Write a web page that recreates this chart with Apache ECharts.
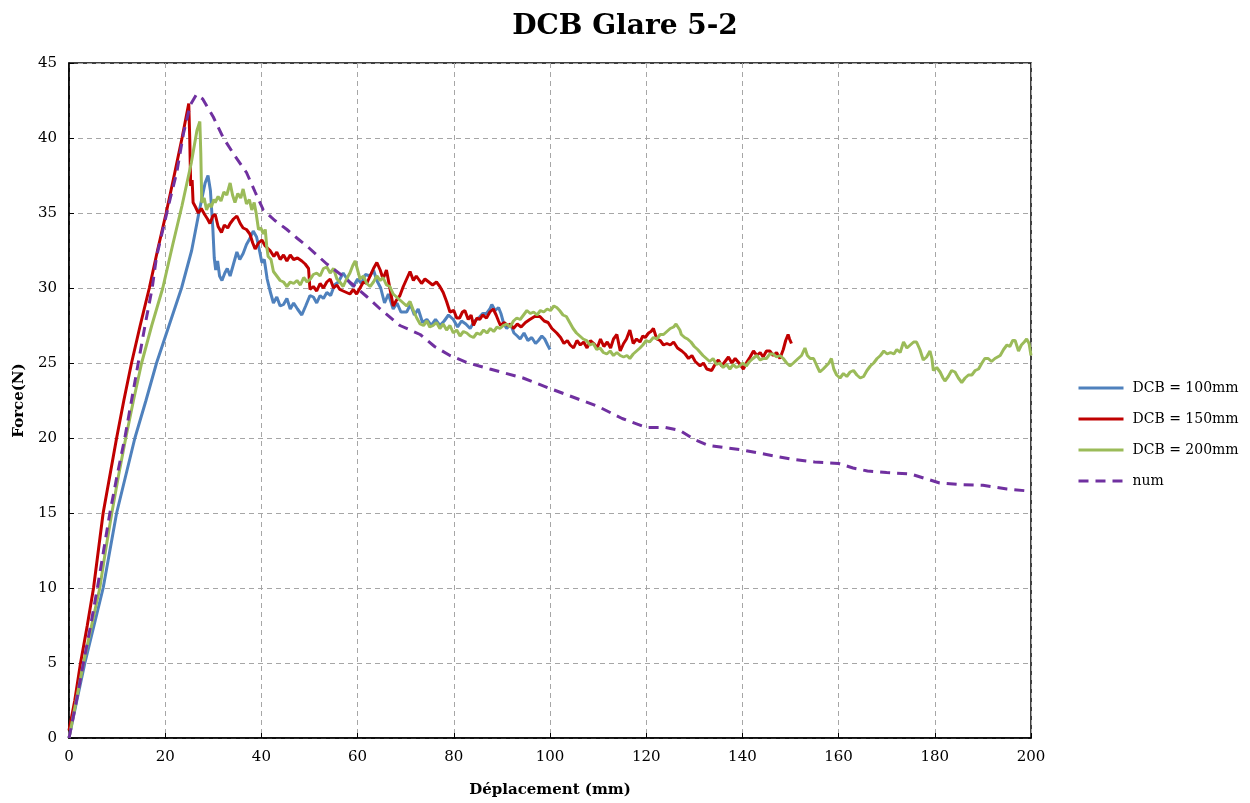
<!DOCTYPE html>
<html>
<head>
<meta charset="utf-8">
<script src="https://cdn.jsdelivr.net/npm/echarts@6/dist/echarts.min.js"></script>
<style>html,body{margin:0;padding:0;background:#fff}#c{width:1250px;height:803px}</style>
</head>
<body>
<div id="c"></div>
<script>
const chartTitle = "DCB Glare 5-2";
const xName = "Déplacement (mm)";
const yName = "Force(N)";
const seriesNames = ["DCB = 100mm", "DCB = 150mm", "DCB = 200mm", "num"];

const dcb100 = [[0,0],[1.5,2.3],[3.3,5],[5.2,7.5],[7.1,10],[8.5,12.5],[9.9,15],[11.8,17.5],[13.7,20],[16,22.5],[18.2,25],[20.8,27.5],[23.4,30],[25.5,32.5],[27,35],[28.3,37],[28.9,37.5],[29.4,36.5],[29.9,34],[30.2,32],[30.5,31.2],[30.9,31.8],[31.3,30.8],[31.8,30.5],[32.4,31.0],[32.9,31.3],[33.5,30.8],[34.2,31.6],[34.9,32.4],[35.5,31.9],[36.2,32.3],[36.9,32.9],[37.6,33.3],[38.3,33.8],[39.0,33.4],[39.6,32.5],[40.1,31.7],[40.6,31.9],[41.2,30.6],[41.8,29.8],[42.5,29.0],[43.2,29.4],[43.9,28.8],[44.6,28.9],[45.3,29.3],[46.0,28.6],[46.7,29.0],[47.5,28.6],[48.4,28.2],[49.2,28.8],[50.1,29.5],[50.8,29.4],[51.5,29.0],[52.2,29.5],[52.9,29.3],[53.6,29.7],[54.4,29.5],[55.2,30.2],[56.0,30.4],[57.0,31.0],[57.8,30.6],[58.5,30.3],[59.1,30.1],[60.0,30.6],[60.8,30.3],[61.6,30.9],[62.6,30.8],[63.3,31.2],[64.0,30.5],[64.8,30.0],[65.6,29.0],[66.4,29.6],[67.4,28.6],[68.2,29.0],[69.0,28.4],[70.2,28.4],[71.0,28.9],[71.8,28.2],[72.6,28.6],[73.5,27.7],[74.4,27.9],[75.3,27.5],[76.2,27.9],[77.1,27.5],[78.0,27.8],[78.9,28.2],[79.9,27.9],[80.8,27.4],[81.6,27.8],[82.5,27.6],[83.4,27.3],[84.3,27.8],[85.2,28.0],[86.0,28.3],[86.8,28.3],[87.5,28.6],[87.9,28.9],[88.6,28.5],[89.3,28.7],[89.8,28.3],[90.4,27.6],[91.0,27.3],[91.8,27.6],[92.5,27.0],[93.2,26.8],[93.8,26.6],[94.6,27.0],[95.4,26.5],[96.2,26.7],[97.0,26.3],[97.6,26.5],[98.3,26.8],[98.9,26.6],[99.5,26.2],[100,25.9]];

const dcb150 = [[0,0.5],[1.2,2.5],[2.4,5],[3.8,7.5],[5.1,10],[6.1,12.5],[7.1,15],[8.5,17.5],[9.9,20],[11.4,22.5],[13,25],[14.8,27.5],[16.7,30],[18.4,32.5],[20.2,35],[22,37.7],[23.5,40],[24.9,42.3],[25.1,40],[25.3,36.8],[25.6,37.2],[25.8,35.7],[26.3,35.4],[26.9,35.0],[27.5,35.3],[28.2,34.9],[28.8,34.6],[29.3,34.3],[29.9,34.8],[30.4,34.9],[31.0,34.1],[31.7,33.7],[32.3,34.2],[33.0,34.0],[33.5,34.3],[34.2,34.6],[34.9,34.8],[35.6,34.3],[36.2,34.0],[36.9,33.9],[37.6,33.6],[38.2,33.0],[38.7,32.6],[39.4,33.0],[40.1,33.2],[40.8,32.8],[41.8,32.5],[42.6,32.1],[43.2,32.4],[43.9,31.9],[44.6,32.2],[45.3,31.8],[46.0,32.2],[46.7,31.9],[47.5,32.0],[48.4,31.8],[49.1,31.6],[49.8,31.3],[50.1,29.9],[50.8,30.1],[51.5,29.8],[52.2,30.3],[52.9,30.0],[53.6,30.4],[54.3,30.6],[55.0,30.0],[55.7,30.2],[56.3,29.9],[57.0,29.8],[57.7,29.7],[58.4,29.6],[59.1,29.9],[59.8,29.6],[60.5,30.0],[61.2,30.4],[61.9,30.3],[62.6,30.8],[63.3,31.3],[64.0,31.7],[64.7,31.2],[65.3,30.6],[66.0,31.2],[66.7,30.0],[67.4,28.8],[68.1,29.2],[68.8,29.5],[69.5,30.1],[70.2,30.6],[70.9,31.1],[71.6,30.5],[72.2,30.8],[72.6,30.9],[73.3,30.3],[74.0,30.6],[74.8,30.4],[75.6,30.2],[76.4,30.4],[77.1,30.1],[77.8,29.7],[78.5,29.1],[79.2,28.4],[80.0,28.5],[80.6,28.0],[81.2,28.0],[81.8,28.4],[82.3,28.5],[83.0,27.9],[83.6,28.2],[84.1,27.5],[84.8,28.0],[85.4,27.9],[86.0,28.2],[86.8,28.0],[87.5,28.4],[88.2,28.6],[88.8,28.2],[89.3,27.8],[89.7,27.5],[90.5,27.7],[91.2,27.5],[91.8,27.6],[92.4,27.3],[93.2,27.6],[94.0,27.4],[94.9,27.7],[95.8,27.9],[96.8,28.1],[97.9,28.1],[98.8,27.8],[99.6,27.7],[100.4,27.3],[101.4,27.0],[102.2,26.7],[102.9,26.3],[103.6,26.5],[104.2,26.2],[104.9,26.0],[105.6,26.5],[106.3,26.2],[107.0,26.4],[107.7,26.0],[108.4,26.5],[109.1,26.3],[109.8,26.0],[110.5,26.6],[111.2,26.1],[111.9,26.4],[112.6,26.0],[113.2,26.6],[113.9,26.9],[114.6,25.8],[115.3,26.3],[115.9,26.6],[116.6,27.2],[117.3,26.3],[118.0,26.6],[118.7,26.4],[119.3,26.8],[119.8,26.7],[120.5,27.0],[121.0,27.1],[121.5,27.3],[122.2,26.6],[122.9,26.5],[123.6,26.2],[124.3,26.3],[125.0,26.2],[125.7,26.4],[126.5,26.0],[127.4,25.8],[128.1,25.6],[128.8,25.3],[129.5,25.5],[130.2,25.1],[131.2,24.8],[131.9,25.0],[132.6,24.6],[133.6,24.5],[134.3,24.9],[135.0,25.2],[135.7,24.8],[136.4,25.1],[137.1,25.4],[137.8,25.0],[138.5,25.3],[139.3,25.0],[140.2,24.6],[141.0,25.1],[141.6,25.4],[142.3,25.8],[143.0,25.5],[143.7,25.7],[144.3,25.4],[145.0,25.8],[145.7,25.8],[146.4,25.5],[147.1,25.7],[147.8,25.3],[148.5,25.9],[149.0,26.5],[149.5,26.9],[149.8,26.6],[150.2,26.3]];

const dcb200 = [[0,0],[1.5,2.5],[3,5],[4.7,7.5],[6.4,10],[7.6,12.5],[8.9,15],[10.3,17.5],[11.8,20],[13.4,22.5],[15.1,25],[17.2,27.5],[19.5,30],[21.5,32.8],[23.5,35.5],[25.4,38.3],[26.6,40.5],[27.2,41.1],[27.4,39],[27.6,35.7],[28.1,36.0],[28.6,35.2],[29.1,35.6],[29.6,35.4],[30.1,35.9],[30.4,35.7],[31.0,36.1],[31.6,35.8],[32.2,36.4],[32.8,36.2],[33.5,37.0],[34.0,36.2],[34.5,35.7],[35.1,36.3],[35.7,36.0],[36.2,36.6],[36.9,35.6],[37.5,35.9],[38.0,35.2],[38.5,35.7],[38.9,35.0],[39.4,33.9],[39.9,34.0],[40.4,33.6],[40.8,33.9],[41.1,32.8],[41.4,32.1],[42.0,31.9],[42.5,31.1],[43.2,30.8],[43.9,30.5],[44.6,30.4],[45.3,30.1],[46.0,30.4],[46.7,30.3],[47.4,30.5],[48.1,30.2],[48.8,30.7],[49.5,30.4],[50.2,30.6],[50.8,30.9],[51.5,31.0],[52.2,30.8],[52.9,31.3],[53.6,31.4],[54.3,31.0],[55.0,31.3],[55.7,30.6],[56.3,30.4],[57.0,30.1],[57.7,30.6],[58.4,31.0],[59.0,31.5],[59.5,31.8],[60.0,31.2],[60.5,30.6],[61.2,30.8],[61.9,30.3],[62.6,30.1],[63.3,30.4],[64.0,30.8],[64.7,30.5],[65.3,30.7],[66.0,30.2],[66.7,30.1],[67.4,29.6],[68.1,29.4],[68.8,29.2],[69.5,29.0],[70.2,28.8],[70.9,29.1],[71.6,28.5],[72.3,28.0],[73.0,27.6],[73.7,27.5],[74.4,27.8],[75.0,27.4],[75.7,27.5],[76.4,27.7],[77.1,27.3],[77.8,27.6],[78.5,27.2],[79.2,27.5],[79.9,27.0],[80.6,27.2],[81.3,26.8],[82.0,27.1],[82.7,27.0],[83.4,26.8],[84.1,26.7],[84.8,27.0],[85.5,26.9],[86.2,27.2],[86.9,27.0],[87.6,27.3],[88.3,27.1],[89.0,27.4],[89.6,27.3],[90.3,27.5],[91.0,27.6],[91.7,27.4],[92.4,27.8],[93.1,28.0],[93.8,27.9],[94.5,28.2],[95.2,28.5],[95.9,28.3],[96.6,28.4],[97.3,28.2],[98.0,28.5],[98.7,28.4],[99.4,28.6],[100.1,28.5],[100.8,28.8],[101.4,28.7],[102.0,28.5],[102.7,28.2],[103.4,28.1],[104.1,27.7],[104.8,27.3],[105.5,27.0],[106.2,26.8],[106.9,26.6],[107.6,26.5],[108.3,26.2],[109.0,26.3],[109.7,25.9],[110.4,26.0],[111.1,25.7],[111.8,25.6],[112.5,25.8],[113.2,25.5],[113.9,25.7],[114.6,25.5],[115.3,25.4],[116.0,25.5],[116.6,25.3],[117.3,25.6],[118.0,25.8],[118.7,26.0],[119.3,26.2],[120.0,26.5],[120.7,26.4],[121.5,26.7],[122.2,26.6],[122.9,26.9],[123.6,26.9],[124.3,27.1],[125.0,27.3],[125.7,27.4],[126.2,27.6],[126.6,27.6],[127.0,27.2],[127.3,26.9],[128.0,26.7],[128.6,26.6],[129.3,26.4],[130.0,26.1],[130.7,25.9],[131.1,25.8],[131.8,25.5],[132.5,25.3],[133.2,25.1],[133.9,25.3],[134.6,24.9],[135.3,25.0],[136.0,24.7],[136.7,24.9],[137.4,24.6],[138.1,24.9],[138.7,24.7],[139.4,24.8],[140.1,25.0],[140.8,24.8],[141.5,25.1],[142.2,25.3],[143.0,25.5],[143.7,25.2],[144.4,25.3],[145.0,25.3],[145.7,25.6],[146.4,25.6],[147.1,25.4],[147.8,25.5],[148.5,25.3],[149.2,25.0],[149.9,24.8],[150.6,25.0],[151.6,25.3],[152.3,25.5],[153.0,26.0],[153.5,25.5],[154.1,25.3],[154.8,25.3],[155.5,24.8],[156.1,24.4],[156.8,24.6],[157.4,24.8],[158.0,25.0],[158.5,25.3],[159.0,24.6],[159.6,24.2],[160.3,24.0],[161.0,24.3],[161.7,24.1],[162.4,24.4],[163.1,24.5],[163.8,24.2],[164.5,24.0],[165.2,24.1],[165.9,24.5],[166.6,24.8],[167.3,25.0],[168.0,25.3],[168.7,25.5],[169.4,25.8],[170.1,25.6],[170.8,25.7],[171.5,25.6],[172.1,25.9],[172.8,25.7],[173.5,26.4],[174.2,26.0],[174.9,26.2],[175.6,26.4],[176.2,26.4],[176.9,25.9],[177.6,25.2],[178.3,25.4],[179.0,25.8],[179.4,25.3],[179.7,24.5],[180.4,24.7],[181.1,24.4],[181.7,24.0],[182.1,23.8],[182.8,24.1],[183.5,24.5],[184.2,24.4],[184.9,24.0],[185.6,23.7],[186.3,24.0],[187.0,24.2],[187.7,24.2],[188.4,24.5],[189.1,24.6],[189.8,25.0],[190.4,25.3],[191.1,25.3],[191.8,25.1],[192.5,25.3],[192.9,25.2],[193.6,25.5],[194.3,25.9],[195.0,26.2],[195.6,26.1],[196.2,26.5],[196.7,26.5],[197.1,26.1],[197.4,25.8],[198.0,26.2],[198.6,26.4],[199.1,26.6],[199.6,26.3],[200,25.5]];

const numData = [[0,0],[1.5,2.4],[3,5],[4.5,7.5],[5.9,10],[7.2,12.5],[8.5,15],[10,17.5],[11.6,20],[13,22.5],[14.4,25],[15.8,27.5],[17.3,30],[18.2,32.1],[21.0,35.9],[22.4,37.7],[23.8,40.3],[25.2,42.2],[26.5,42.9],[27.8,42.6],[30,41.4],[32.1,40.0],[34.5,38.8],[36.9,37.7],[38.7,36.4],[40.4,35.2],[42.8,34.5],[45.3,33.9],[47.5,33.3],[49.8,32.7],[53.6,31.6],[56.5,30.9],[59.1,30.2],[62,29.4],[64.7,28.6],[68.8,27.5],[73,26.9],[76,26.1],[79.2,25.5],[83,25.0],[87.5,24.6],[94.4,24.0],[100,23.3],[105,22.7],[110,22.1],[115,21.3],[120,20.7],[124,20.7],[127,20.5],[130,19.9],[133,19.5],[140,19.2],[145,18.9],[150,18.6],[155,18.4],[160,18.3],[163,18.0],[166,17.8],[170,17.7],[175,17.6],[178,17.3],[181,17.0],[185,16.9],[190,16.85],[195,16.6],[200,16.45]];

const xTicks = {min: 0, max: 200, interval: 20};
const yTicks = {min: 0, max: 45, interval: 5};
const colors = ["#4f81bd", "#c00000", "#9bbb59", "#7030a0"];

const FONT = "DejaVu Serif";
const chart = echarts.init(document.getElementById('c'), null, {renderer: 'canvas'});
const mk = (name, data, color, dashed) => ({
  name: name, type: 'line', data: data, showSymbol: false, symbol: 'none',
  smooth: false, animation: false,
  lineStyle: {color: color, width: 3, type: dashed ? [10, 7] : 'solid'},
  itemStyle: {color: color}
});
chart.setOption({
  animation: false,
  backgroundColor: '#fff',
  title: {text: chartTitle, left: 'center', top: 8,
    textStyle: {fontFamily: FONT, fontSize: 28, fontWeight: 'bold', color: '#000'}},
  grid: {left: 69, right: 219, top: 63, bottom: 62, show: true, borderColor: '#000', borderWidth: 1.5, containLabel: false},
  legend: {orient: 'vertical', left: 1072, top: 376, itemWidth: 45, itemHeight: 14, itemGap: 17,
    icon: 'inherit',
    itemStyle: {opacity: 0},
    lineStyle: {width: 3},
    data: seriesNames,
    textStyle: {fontFamily: FONT, fontSize: 14, color: '#000', padding: [0, 0, 0, 4]}},
  xAxis: {type: 'value', min: xTicks.min, max: xTicks.max, interval: xTicks.interval,
    name: xName, nameLocation: 'middle', nameGap: 45,
    nameTextStyle: {fontFamily: FONT, fontSize: 15, fontWeight: 'bold', color: '#000'},
    axisLine: {show: true, lineStyle: {color: '#000', width: 1.5}},
    axisTick: {show: true, inside: true, length: 5, lineStyle: {color: '#000'}},
    axisLabel: {fontFamily: FONT, fontSize: 15, color: '#000', margin: 12},
    splitLine: {show: true, lineStyle: {color: '#a6a6a6', type: [5, 4], width: 1}}},
  yAxis: {type: 'value', min: yTicks.min, max: yTicks.max, interval: yTicks.interval,
    name: yName, nameLocation: 'middle', nameGap: 40, nameRotate: 90,
    nameTextStyle: {fontFamily: FONT, fontSize: 15, fontWeight: 'bold', color: '#000'},
    axisLine: {show: true, lineStyle: {color: '#000', width: 1.5}},
    axisTick: {show: true, inside: true, length: 5, lineStyle: {color: '#000'}},
    axisLabel: {fontFamily: FONT, fontSize: 15, color: '#000', margin: 12},
    splitLine: {show: true, lineStyle: {color: '#a6a6a6', type: [5, 4], width: 1}}},
  series: [
    mk(seriesNames[0], dcb100, colors[0], false),
    mk(seriesNames[1], dcb150, colors[1], false),
    mk(seriesNames[2], dcb200, colors[2], false),
    mk(seriesNames[3], numData, colors[3], true)
  ]
});
</script>
</body>
</html>
